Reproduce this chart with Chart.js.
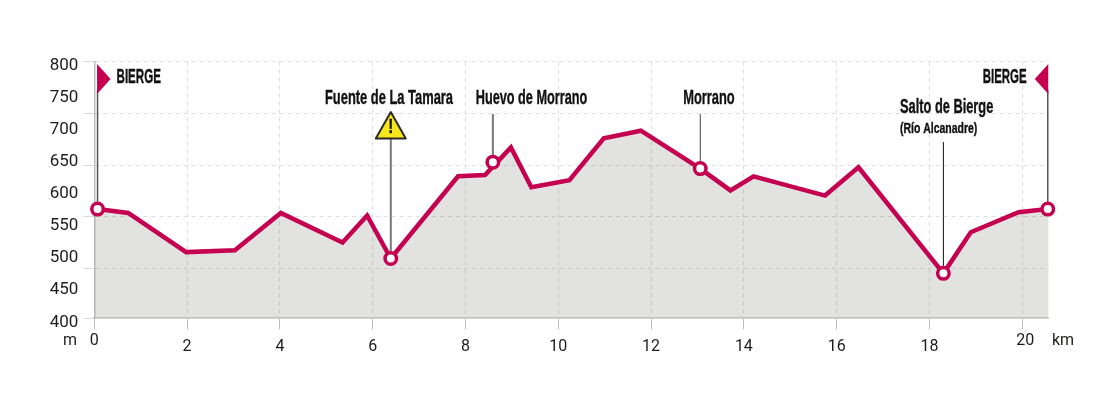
<!DOCTYPE html>
<html>
<head>
<meta charset="utf-8">
<title>Perfil Bierge</title>
<script src="https://cdn.jsdelivr.net/npm/chart.js@4"></script>
<style>
  html, body { margin: 0; padding: 0; background: #fff; }
  canvas { display: block; }
</style>
</head>
<body>
<canvas id="profile" width="1100" height="393"></canvas>
<script>
// profile: distance in km, altitude in m
const profileKm = [0, 0.07, 0.73, 1.98, 3.03, 4.02, 5.35, 5.88, 6.39, 7.84, 8.42, 8.98, 9.42, 10.24, 10.98, 11.78, 13.06, 13.71, 14.21, 15.75, 16.47, 18.3, 18.89, 19.92, 20.55, 20.57];
const profileAlt = [570, 570, 564, 503, 506, 564, 518, 560, 493, 621, 623, 666, 604, 615, 680, 692, 633, 599, 621, 591, 635, 470, 534, 565, 570, 570];

const stopNames = ["BIERGE", "Fuente de La Tamara", "Huevo de Morrano", "Morrano", "Salto de Bierge", "BIERGE"];
const stopKm = [0.07, 6.39, 8.59, 13.06, 18.3, 20.55];
const stopAlt = [570, 493, 643, 633, 470, 570];

// ruled lines do not line up with the altitude labels in the original
const gridAlt = [400, 478, 558, 637.5, 718, 800];

const crimson = "#c60050";
const textColor = "#1d1d1b";

// squeeze text to a given width, the original uses a condensed face
function fitText(ctx, text, left, midY, width, font) {
  ctx.save();
  ctx.font = font;
  ctx.textAlign = "left";
  ctx.textBaseline = "middle";
  ctx.fillStyle = "#111";
  ctx.strokeStyle = "#111";
  ctx.lineWidth = 0.4;
  ctx.translate(left, midY);
  ctx.scale(width / ctx.measureText(text).width, 1);
  ctx.fillText(text, 0, 0);
  ctx.strokeText(text, 0, 0);
  ctx.restore();
}

function leader(ctx, x, top, bottom, color, lineWidth) {
  ctx.strokeStyle = color;
  ctx.lineWidth = lineWidth;
  ctx.beginPath();
  ctx.moveTo(x, top);
  ctx.lineTo(x, bottom);
  ctx.stroke();
}

function flag(ctx, x, tipX, top, bottom) {
  ctx.fillStyle = crimson;
  ctx.beginPath();
  ctx.moveTo(x, top);
  ctx.lineTo(tipX, (top + bottom) / 2);
  ctx.lineTo(x, bottom);
  ctx.closePath();
  ctx.fill();
}

const annotations = {
  id: "annotations",
  beforeDatasetsDraw(chart) {
    const { ctx, scales: { x, y } } = chart;
    const px = stopKm.map((v) => x.getPixelForValue(v));
    const py = stopAlt.map((v) => y.getPixelForValue(v));
    ctx.save();
    leader(ctx, px[0], 90, py[0], "#555", 1.5);
    leader(ctx, px[1], 135, py[1], "#777", 2);
    leader(ctx, px[2], 114, py[2], "#777", 2);
    leader(ctx, px[3], 114, py[3], "#444", 1);
    leader(ctx, px[4], 142, py[4], "#111", 1);
    leader(ctx, px[5], 90, py[5], "#555", 1.5);
    ctx.restore();
  },
  afterDraw(chart) {
    const { ctx, scales: { x } } = chart;
    const px = stopKm.map((v) => x.getPixelForValue(v));
    ctx.save();

    flag(ctx, px[0] - 0.5, px[0] + 13, 64, 94);
    flag(ctx, px[5] + 0.5, px[5] - 13, 64, 94);

    // warning sign
    const tx = px[1];
    ctx.beginPath();
    ctx.moveTo(tx, 112);
    ctx.lineTo(tx + 15, 138.5);
    ctx.lineTo(tx - 15, 138.5);
    ctx.closePath();
    ctx.fillStyle = "#f6e61c";
    ctx.strokeStyle = "#2b2b2b";
    ctx.lineWidth = 2;
    ctx.lineJoin = "round";
    ctx.fill();
    ctx.stroke();
    fitText(ctx, "!", tx - 2.5, 127.5, 5, "bold 20px 'Liberation Sans'");

    const bold = "bold 21px 'Liberation Sans'";
    fitText(ctx, stopNames[0], 116.5, 77, 44.5, bold);
    fitText(ctx, stopNames[1], 325, 98, 128, bold);
    fitText(ctx, stopNames[2], 475.7, 98, 111.6, bold);
    fitText(ctx, stopNames[3], 683.3, 98, 51.4, bold);
    fitText(ctx, stopNames[4], 900, 107.5, 93.3, bold);
    fitText(ctx, "(Río Alcanadre)", 900, 129, 77.3, "bold 15px 'Liberation Sans'");
    fitText(ctx, stopNames[5], 982.7, 77, 44, bold);

    // end ticks and units sit a little higher than the other labels
    ctx.font = "16px Roboto";
    ctx.fillStyle = textColor;
    ctx.textBaseline = "middle";
    ctx.textAlign = "center";
    ctx.fillText("0", x.getPixelForValue(0), 340.5);
    ctx.fillText("20", x.getPixelForValue(20) + 3, 340.5);
    ctx.textAlign = "left";
    ctx.fillText("m", 63, 341);
    ctx.fillText("km", 1052, 341);
    ctx.restore();
  },
};

new Chart(document.getElementById("profile").getContext("2d"), {
  type: "line",
  data: {
    datasets: [
      {
        label: "stops",
        data: stopKm.map((km, i) => ({ x: km, y: stopAlt[i] })),
        showLine: false,
        clip: false,
        pointRadius: 5.75,
        pointBorderWidth: 3.5,
        pointBackgroundColor: "#fff",
        pointBorderColor: crimson,
      },
      {
        label: "altitude",
        data: profileKm.map((km, i) => ({ x: km, y: profileAlt[i] })),
        borderColor: crimson,
        borderWidth: 4.5,
        borderJoinStyle: "miter",
        tension: 0,
        pointRadius: 0,
        fill: "origin",
        backgroundColor: "rgba(110,110,100,0.2)",
      },
    ],
  },
  options: {
    responsive: false,
    animation: false,
    layout: { padding: { left: 0, right: 51.3, top: 61.3, bottom: 0 } },
    plugins: { legend: { display: false }, tooltip: { enabled: false } },
    scales: {
      x: {
        type: "linear",
        min: 0,
        max: 20.57,
        afterFit: (axis) => { axis.height = 74.7; },
        border: { color: "#d4d4d4", width: 2, dash: [4, 4] },
        grid: {
          color: "#dddddd",
          tickBorderDash: [1, 0],
          tickColor: "#bdbdbd",
          tickLength: 11,
        },
        ticks: {
          stepSize: 2,
          includeBounds: false,
          maxRotation: 0,
          padding: 8,
          color: textColor,
          font: { family: "Roboto", size: 16 },
          callback: (v) => (v === 0 || v === 20 ? "" : v),
        },
      },
      // altitude labels every 50 m
      y: {
        min: 400,
        max: 800,
        position: "left",
        weight: 1,
        afterFit: (axis) => { axis.width = 83.3; },
        border: { display: false },
        grid: { display: false, tickLength: 0 },
        ticks: {
          stepSize: 50,
          padding: 5,
          labelOffset: 4,
          color: textColor,
          font: { family: "Roboto", size: 17 },
        },
      },
      yGrid: {
        min: 400,
        max: 800,
        position: "left",
        weight: 0,
        afterFit: (axis) => { axis.width = 11; },
        afterBuildTicks: (axis) => { axis.ticks = gridAlt.map((value) => ({ value })); },
        border: { color: "#bdbdbd", width: 1.5, dash: [4, 4] },
        grid: {
          color: "#dddddd",
          tickBorderDash: [1, 0],
          tickColor: "#d0d0d0",
          tickLength: 11,
        },
        ticks: { display: false },
      },
    },
  },
  plugins: [annotations],
});
</script>
</body>
</html>
